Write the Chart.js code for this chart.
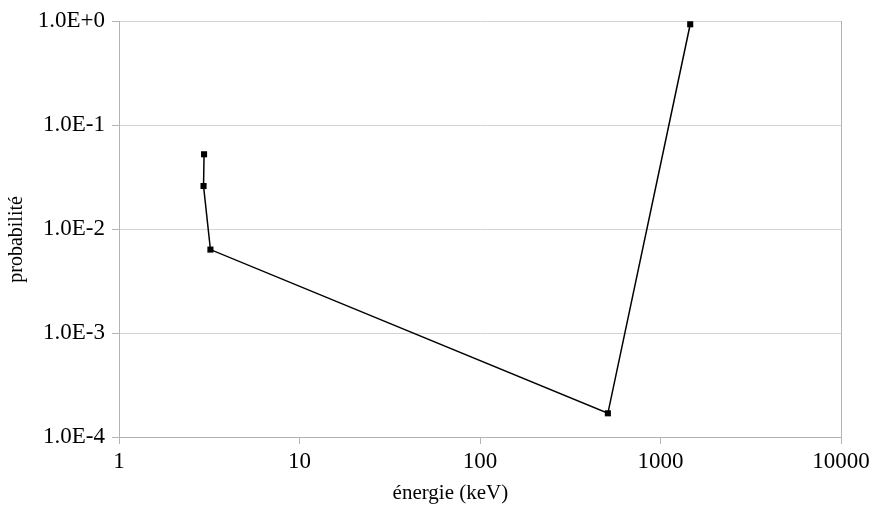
<!DOCTYPE html>
<html>
<head>
<meta charset="utf-8">
<script src="https://cdn.jsdelivr.net/npm/chart.js@4/dist/chart.umd.min.js"></script>
<style>
html,body{margin:0;padding:0;background:#fff;}
#wrap{width:877px;height:509px;position:relative;}
</style>
</head>
<body>
<div id="wrap"><canvas id="c"></canvas></div>
<script>
const energies = [2.96, 2.94, 3.21, 511, 1461];
const probabilities = [0.0523, 0.0259, 0.00634, 0.000169, 0.93];
const xTickValues = [1, 10, 100, 1000, 10000];
const xTickLabels = ['1', '10', '100', '1000', '10000'];
const yTickValues = [1e-4, 1e-3, 1e-2, 1e-1, 1];
const yTickLabels = ['1.0E-4', '1.0E-3', '1.0E-2', '1.0E-1', '1.0E+0'];
const xTitle = 'énergie (keV)';
const yTitle = 'probabilité';

const points = energies.map((e, i) => ({x: e, y: probabilities[i]}));
const FONT = 'Liberation Serif';
const AXIS = '#b3b3b3';
const GRID = '#d4d4d4';

const axisTitles = {
  id: 'axisTitles',
  afterDraw(chart) {
    const ctx = chart.ctx;
    const area = chart.chartArea;
    ctx.save();
    ctx.fillStyle = '#000';
    ctx.textAlign = 'center';
    ctx.textBaseline = 'middle';
    ctx.font = '21px "' + FONT + '"';
    ctx.fillText(xTitle, area.left + (area.right - area.left) * 0.459, chart.height - 16);
    ctx.translate(17, area.top + (area.bottom - area.top) * 0.525);
    ctx.rotate(-Math.PI / 2);
    ctx.font = '20px "' + FONT + '"';
    ctx.fillText(yTitle, 0, 0);
    ctx.restore();
  }
};

new Chart(document.getElementById('c'), {
  type: 'scatter',
  data: {
    datasets: [{
      data: points,
      showLine: true,
      borderColor: '#000',
      borderWidth: 1.5,
      backgroundColor: '#000',
      pointStyle: 'rect',
      pointRadius: 4.3,
      pointBorderWidth: 0,
      pointHoverRadius: 4.3
    }]
  },
  plugins: [axisTitles],
  options: {
    responsive: true,
    maintainAspectRatio: false,
    animation: false,
    layout: {padding: {top: 21, right: 36, left: 0, bottom: 0}},
    plugins: {legend: {display: false}, tooltip: {enabled: false}},
    scales: {
      x: {
        type: 'logarithmic',
        min: 1, max: 10000,
        afterBuildTicks: s => { s.ticks = xTickValues.map(v => ({value: v})); },
        afterFit: s => { s.height = 72; },
        ticks: {
          autoSkip: false, maxRotation: 0, color: '#000', padding: 4,
          font: {family: FONT, size: 23},
          callback: (v) => xTickLabels[xTickValues.indexOf(v)] ?? ''
        },
        grid: {
          color: c => (c.tick && c.tick.value === 10000) ? AXIS : 'rgba(0,0,0,0)',
          tickColor: AXIS, tickLength: 7, lineWidth: 1
        },
        border: {color: AXIS, width: 1},
        title: {display: false}
      },
      y: {
        type: 'logarithmic',
        min: 1e-4, max: 1,
        afterBuildTicks: s => { s.ticks = yTickValues.map(v => ({value: v})); },
        afterFit: s => { s.width = 119; },
        ticks: {
          autoSkip: false, color: '#000', padding: 7,
          font: {family: FONT, size: 23},
          callback: (v) => {
            const i = yTickValues.findIndex(t => Math.abs(Math.log10(t) - Math.log10(v)) < 1e-6);
            return i >= 0 ? yTickLabels[i] : '';
          }
        },
        grid: {color: GRID, tickColor: AXIS, tickLength: 7, lineWidth: 1},
        border: {color: AXIS, width: 1},
        title: {display: false}
      }
    }
  }
});
</script>
</body>
</html>
